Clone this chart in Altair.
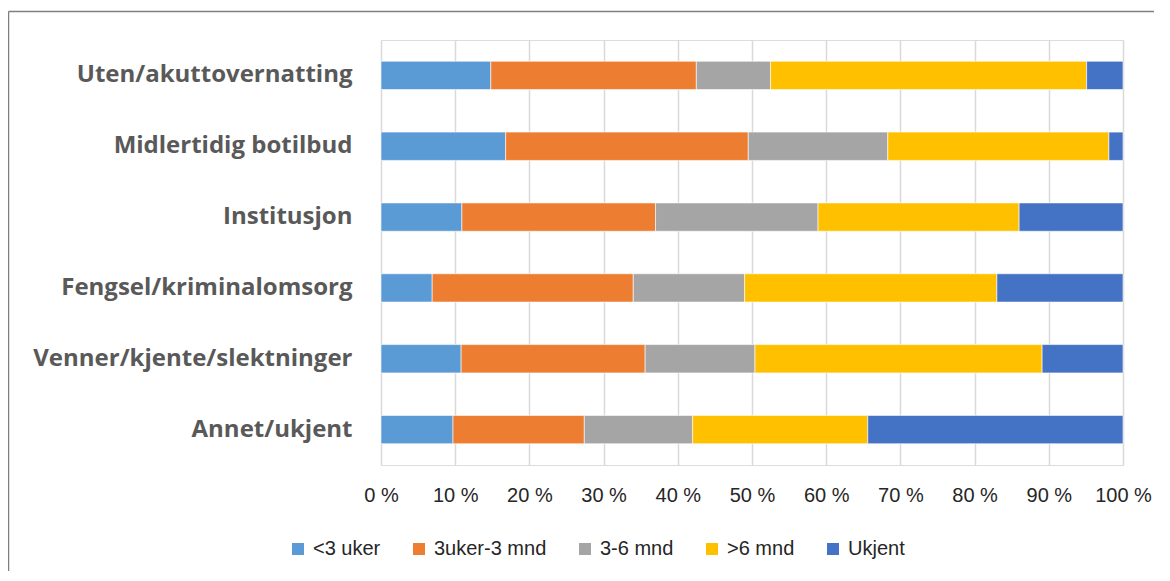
import altair as alt
import pandas as pd

categories = ["Uten/akuttovernatting", "Midlertidig botilbud", "Institusjon",
              "Fengsel/kriminalomsorg", "Venner/kjente/slektninger", "Annet/ukjent"]
series = ["<3 uker", "3uker-3 mnd", "3-6 mnd", ">6 mnd", "Ukjent"]
colors = ["#5B9BD5", "#ED7D31", "#A5A5A5", "#FFC000", "#4472C4"]

v_lt3uker = [14.8, 16.8, 10.9, 6.9, 10.8, 9.7]
v_3uker3mnd = [27.7, 32.7, 26.1, 27.1, 24.8, 17.7]
v_36mnd = [10.0, 18.8, 21.9, 15.0, 14.8, 14.6]
v_gt6mnd = [42.6, 29.8, 27.1, 34.0, 38.7, 23.6]
v_ukjent = [4.9, 1.9, 14.0, 17.0, 10.9, 34.4]
tick_values = [0, 10, 20, 30, 40, 50, 60, 70, 80, 90, 100]

all_vals = [v_lt3uker, v_3uker3mnd, v_36mnd, v_gt6mnd, v_ukjent]
rows = []
for si, (s, vals) in enumerate(zip(series, all_vals)):
    for c, v in zip(categories, vals):
        rows.append({"kategori": c, "serie": s, "andel": v, "ordre": si})
df = pd.DataFrame(rows)

bars = alt.Chart(df).mark_bar(stroke="white", strokeWidth=0.6).encode(
    y=alt.Y("kategori:N", sort=categories, title=None,
            scale=alt.Scale(paddingInner=0.6, paddingOuter=0.3),
            axis=alt.Axis(labelFont="Open Sans", labelFontSize=24,
                          labelFontWeight="bold", labelColor="#595959",
                          labelPadding=29, ticks=False, domain=False, grid=False,
                          labelLimit=400)),
    x=alt.X("andel:Q", stack="zero", title=None,
            scale=alt.Scale(domain=[0, 100], nice=False),
            axis=alt.Axis(values=tick_values, labelExpr="datum.value + ' %'",
                          labelFont="Liberation Sans", labelFontSize=20,
                          labelColor="#262626", labelPadding=20, labelFlush=False,
                          ticks=False, domain=False, grid=True,
                          gridColor="#D9D9D9", gridWidth=1.5)),
    color=alt.Color("serie:N", sort=series,
                    scale=alt.Scale(domain=series, range=colors),
                    legend=alt.Legend(title=None, orient="none", direction="horizontal",
                                      legendX=-93, legendY=499, columns=5,
                                      symbolType="square", symbolSize=144,
                                      symbolStrokeWidth=0, labelFont="Liberation Sans",
                                      labelFontSize=20, labelColor="#262626",
                                      columnPadding=28, symbolOffset=0, labelOffset=5)),
    order=alt.Order("ordre:Q", sort="ascending"),
)

frame_data = alt.Data(values=[{"k": 1}])
frame_left = alt.Chart(frame_data).mark_rule(color="#7F7F7F", strokeWidth=1.5).encode(
    x=alt.value(-372.5), y=alt.value(-28.5), y2=alt.value(560))
frame_top = alt.Chart(frame_data).mark_rule(color="#7F7F7F", strokeWidth=1.5).encode(
    x=alt.value(-372.5), x2=alt.value(800), y=alt.value(-28.5))

chart = alt.layer(bars, frame_left, frame_top).properties(
    width=742, height=425,
    autosize=alt.AutoSizeParams(type="none"),
    padding={"left": 373, "top": 32, "right": 31, "bottom": 106},
).configure_view(strokeWidth=0).configure(background="white")

chart.save("out.html", embed_options={"renderer": "svg", "actions": False})
